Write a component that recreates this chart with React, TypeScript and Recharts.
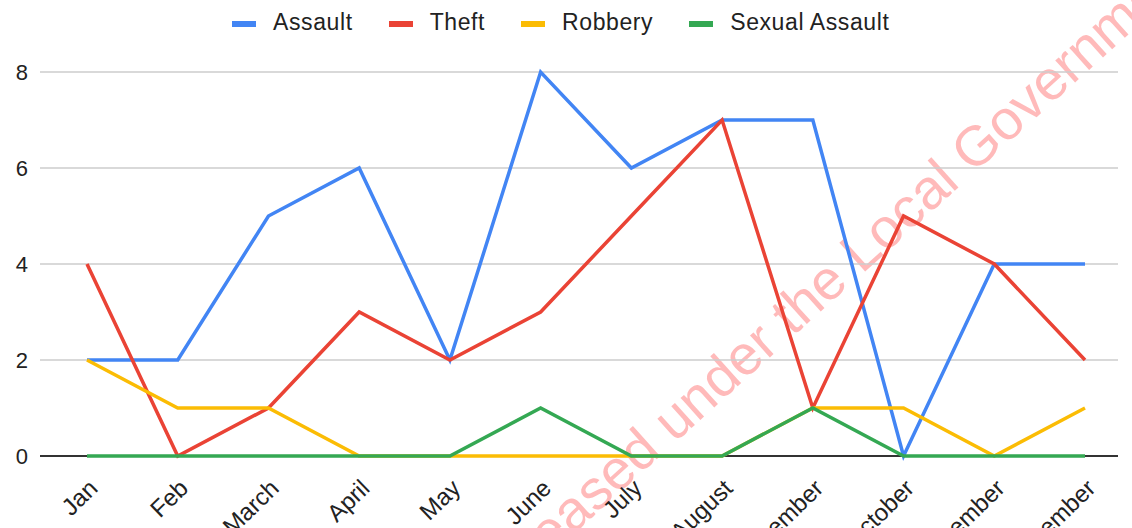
import { LineChart, Line, XAxis, YAxis, CartesianGrid } from 'recharts';

const months = ['Jan', 'Feb', 'March', 'April', 'May', 'June', 'July', 'August', 'September', 'October', 'November', 'December'];
const assault = [2, 2, 5, 6, 2, 8, 6, 7, 7, 0, 4, 4];
const theft = [4, 0, 1, 3, 2, 3, 5, 7, 1, 5, 4, 2];
const robbery = [2, 1, 1, 0, 0, 0, 0, 0, 1, 1, 0, 1];
const sexualAssault = [0, 0, 0, 0, 0, 1, 0, 0, 1, 0, 0, 0];
const yTicks = [0, 2, 4, 6, 8];

const series = [
  { key: 'assault', name: 'Assault', color: '#4285f4' },
  { key: 'theft', name: 'Theft', color: '#ea4335' },
  { key: 'robbery', name: 'Robbery', color: '#fbbc04' },
  { key: 'sexualAssault', name: 'Sexual Assault', color: '#34a853' },
];

const data = months.map((month, i) => ({
  month,
  assault: assault[i],
  theft: theft[i],
  robbery: robbery[i],
  sexualAssault: sexualAssault[i],
}));

const FONT = 'Arial, "Liberation Sans", sans-serif';

// rotated month labels, right end sits just past the tick
const MonthTick = ({ x, payload }: any) => {
  const ax = x + 12;
  const ay = 490;
  return (
    <text
      x={ax}
      y={ay}
      transform={`rotate(-44, ${ax}, ${ay})`}
      textAnchor="end"
      fontSize={24}
      fontFamily={FONT}
      fill="#222"
    >
      {payload.value}
    </text>
  );
};

// first horizontal line is the zero baseline, drawn dark
const GridLine = (props: any) => {
  const isBase = props.index === 0;
  return (
    <line
      x1={props.x1}
      y1={props.y1}
      x2={props.x2}
      y2={props.y2}
      stroke={isBase ? '#333' : '#ccc'}
      strokeWidth={isBase ? 2 : 1.5}
    />
  );
};

export default function App() {
  return (
    <div style={{ position: 'absolute', left: 0, top: 0, width: 1132, height: 528, background: '#fff', fontFamily: FONT }}>
      <svg width={1132} height={528} style={{ position: 'absolute', left: 0, top: 0 }}>
        <g transform="translate(487, 612) rotate(-42)">
          <text x={0} y={0} fontSize={56} fontFamily={FONT} fill="#ff3b3b" opacity={0.35}>
            Released under the Local Government
          </text>
        </g>
      </svg>
      <div
        style={{
          position: 'absolute',
          left: 232,
          top: 9,
          display: 'flex',
          alignItems: 'center',
          gap: 36,
          fontSize: 23,
          letterSpacing: 0.6,
          color: '#222',
        }}
      >
        {series.map((s) => (
          <div key={s.key} style={{ display: 'flex', alignItems: 'center', gap: 17 }}>
            <span style={{ width: 24, height: 6, background: s.color, display: 'inline-block', marginTop: 3 }} />
            <span>{s.name}</span>
          </div>
        ))}
      </div>
      <div style={{ position: 'absolute', left: 0, top: 0 }}>
        <LineChart width={1132} height={528} data={data} margin={{ top: 72, right: 14, left: 0, bottom: 0 }}>
          <CartesianGrid vertical={false} horizontal={GridLine} />
          <XAxis
            dataKey="month"
            height={72}
            padding={{ left: 47, right: 33 }}
            axisLine={false}
            tickLine={false}
            tick={<MonthTick />}
            interval={0}
          />
          <YAxis
            width={40}
            domain={[0, 8]}
            ticks={yTicks}
            axisLine={false}
            tickLine={false}
            tickMargin={6}
            tick={{ fontSize: 22, fill: '#222', fontFamily: FONT }}
          />
          {series.map((s) => (
            <Line
              key={s.key}
              type="linear"
              dataKey={s.key}
              name={s.name}
              stroke={s.color}
              strokeWidth={3.5}
              dot={false}
              isAnimationActive={false}
            />
          ))}
        </LineChart>
      </div>
    </div>
  );
}
